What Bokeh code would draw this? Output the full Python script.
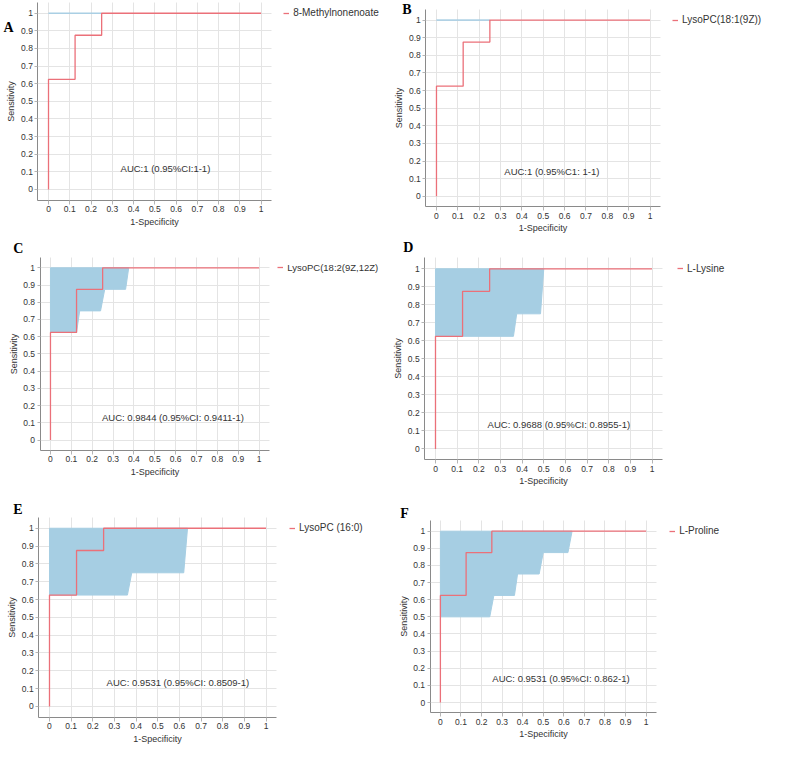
from bokeh.plotting import figure
from bokeh.models import Label, Legend, LegendItem, FixedTicker, Range1d
from bokeh.layouts import column, row
from bokeh.embed import file_html
from bokeh.resources import INLINE

# ---------------- data ----------------
tick_values = [0, 0.1, 0.2, 0.3, 0.4, 0.5, 0.6, 0.7, 0.8, 0.9, 1]
tick_labels = ["0", "0.1", "0.2", "0.3", "0.4", "0.5", "0.6", "0.7", "0.8", "0.9", "1"]

panel_letters = ["A", "B", "C", "D", "E", "F"]
metabolites = ["8-Methylnonenoate", "LysoPC(18:1(9Z))", "LysoPC(18:2(9Z,12Z)",
               "L-Lysine", "LysoPC (16:0)", "L-Proline"]
auc_texts = ["AUC:1 (0.95%CI:1-1)",
             "AUC:1 (0.95%C1: 1-1)",
             "AUC: 0.9844 (0.95%CI: 0.9411-1)",
             "AUC: 0.9688 (0.95%CI: 0.8955-1)",
             "AUC: 0.9531 (0.95%CI: 0.8509-1)",
             "AUC: 0.9531 (0.95%CI: 0.862-1)"]
auc_x = [0.55, 0.54, 0.587, 0.57, 0.593, 0.586]
auc_y = [0.117, 0.14, 0.13, 0.137, 0.134, 0.139]

# ROC curve (1-specificity, sensitivity) - same steps in each panel
roc_fpr = [0, 0, 0.125, 0.125, 0.25, 0.25, 1]
roc_tpr = [0, 0.625, 0.625, 0.875, 0.875, 1, 1]

# 95% CI band: right/lower boundary vertices (1-specificity, sensitivity)
ci_a_x = [0.25, 0]
ci_a_y = [1, 1]
ci_b_x = [0.25, 0]
ci_b_y = [1, 1]
ci_c_x = [0.375, 0.36, 0.26, 0.24, 0.14, 0.125, 0]
ci_c_y = [1, 0.875, 0.875, 0.75, 0.75, 0.625, 0.625]
ci_d_x = [0.5, 0.485, 0.375, 0.36, 0]
ci_d_y = [1, 0.75, 0.75, 0.625, 0.625]
ci_e_x = [0.6375, 0.62, 0.38, 0.36, 0]
ci_e_y = [1, 0.75, 0.75, 0.625, 0.625]
ci_f_x = [0.64, 0.62, 0.5, 0.48, 0.375, 0.36, 0.26, 0.24, 0]
ci_f_y = [1, 0.875, 0.875, 0.75, 0.75, 0.625, 0.625, 0.5, 0.5]
ci_x = [ci_a_x, ci_b_x, ci_c_x, ci_d_x, ci_e_x, ci_f_x]
ci_y = [ci_a_y, ci_b_y, ci_c_y, ci_d_y, ci_e_y, ci_f_y]

# ---------------- layout (pixel geometry of the reference page) ----------------
PAGE_W, PAGE_H, MARGIN = 789, 766, 8
SX = (PAGE_W - 2 * MARGIN) / PAGE_W
SY = (PAGE_H - 2 * MARGIN) / PAGE_H
col_split = 393          # reference x where the right column starts
row_splits = [240, 500]  # reference y where rows 2 and 3 start

# per panel: pixel of x=0, x=1, y=1, y=0 ; legend glyph left ; letter top-left ; legend font
geo = [
    dict(x0=49, x1=266, y1=13, y0=193, lgx=289, ltx=3, lty=20, lfs="10px"),
    dict(x0=445, x1=663, y1=20, y0=200, lgx=686, ltx=410, lty=2, lfs="10px"),
    dict(x0=51, x1=264, y1=273, y0=449, lgx=283, ltx=13, lty=246, lfs="9.5px"),
    dict(x0=444, x1=665, y1=274, y0=458, lgx=691, ltx=411, lty=245, lfs="10px"),
    dict(x0=50, x1=271, y1=539, y0=721, lgx=295, ltx=13, lty=512, lfs="10px"),
    dict(x0=449, x1=659, y1=542, y0=717, lgx=683, ltx=408, lty=516, lfs="10px"),
]

col_w = [round(SX * col_split)]
col_w.append(PAGE_W - 2 * MARGIN - col_w[0])
row_h = [round(SY * row_splits[0]), round(SY * (row_splits[1] - row_splits[0]))]
row_h.append(PAGE_H - 2 * MARGIN - sum(row_h))
col_x = [MARGIN, MARGIN + col_w[0]]
row_y = [MARGIN, MARGIN + row_h[0], MARGIN + row_h[0] + row_h[1]]

SANS = "Liberation Sans"
TXT = "#333333"
RED = "#eb7079"
BLUE = "#a6cee3"
overrides = {v: s for v, s in zip(tick_values, tick_labels)}
X_LO, X_HI = -0.05, 1.05
Y_LO, Y_HI = -0.06, 1.06


def make_panel(i):
    g = geo[i]
    c, r = i % 2, i // 2
    W, H = col_w[c], row_h[r]
    fx, fy = col_x[c], row_y[r]
    ax = MARGIN + SX * g["x0"] - fx
    kx = SX * (g["x1"] - g["x0"])
    by1 = MARGIN + SY * g["y1"] - fy
    by0 = MARGIN + SY * g["y0"] - fy
    ky = by0 - by1
    xr = Range1d(-ax / kx, (W - ax) / kx)
    yr = Range1d(1 - (H - by1) / ky, 1 + by1 / ky)

    p = figure(width=W, height=H, output_backend="svg", toolbar_location=None,
               x_range=xr, y_range=yr, min_border=0,
               min_border_left=0, min_border_right=0, min_border_top=0, min_border_bottom=0)
    p.outline_line_color = None
    p.background_fill_color = "white"
    p.border_fill_color = "white"

    for axis in (p.xaxis[0], p.yaxis[0]):
        axis.ticker = FixedTicker(ticks=tick_values)
        axis.major_label_overrides = overrides
        axis.minor_tick_line_color = None
        axis.axis_line_color = "#8a8a8a"
        axis.major_tick_line_color = "#b5b5b5"
        axis.major_tick_in = 0
        axis.major_label_text_font = SANS
        axis.major_label_text_font_size = "8.5px"
        axis.major_label_text_color = TXT
        axis.axis_label_text_font = SANS
        axis.axis_label_text_font_size = "9px"
        axis.axis_label_text_font_style = "normal"
        axis.axis_label_text_color = TXT
    p.xaxis.fixed_location = Y_LO
    p.yaxis.fixed_location = X_LO
    p.xaxis.bounds = (X_LO, X_HI)
    p.yaxis.bounds = (Y_LO, Y_HI)
    p.xaxis.axis_label = "1-Specificity"
    p.yaxis.axis_label = "Sensitivity"
    p.xaxis.major_tick_out = 4
    p.xaxis.major_label_standoff = 2
    p.xaxis.axis_label_standoff = 1
    p.yaxis.major_tick_out = 3
    p.yaxis.major_label_standoff = 2
    p.yaxis.axis_label_standoff = 2

    p.xgrid[0].ticker = FixedTicker(ticks=tick_values)
    p.ygrid[0].ticker = FixedTicker(ticks=tick_values)
    p.xgrid[0].cross_bounds = (Y_LO, Y_HI)
    p.ygrid[0].cross_bounds = (X_LO, X_HI)
    for grid in (p.xgrid[0], p.ygrid[0]):
        grid.grid_line_color = "#e4e4e4"
        grid.grid_line_width = 1

    # CI band polygon: top edge at sensitivity 1, right boundary, then back along x=0
    bx = [0] + list(ci_x[i]) + [0]
    by = [1] + list(ci_y[i]) + [ci_y[i][-1]]
    p.patch(bx, by, fill_color=BLUE, line_color=BLUE, line_width=1)

    rr = p.line(roc_fpr, roc_tpr, line_color=RED, line_width=1.3)

    p.add_layout(Label(x=auc_x[i], y=auc_y[i], text=auc_texts[i], text_align="center",
                       text_baseline="middle", text_font=SANS, text_font_size="9.5px",
                       text_color=TXT))

    leg_h = 14
    lgx = MARGIN + SX * g["lgx"] - fx
    legend = Legend(items=[LegendItem(label=metabolites[i], renderers=[rr])],
                    location=(lgx, H - by1 - leg_h / 2), border_line_color=None,
                    background_fill_alpha=0, padding=0, margin=0, spacing=0,
                    glyph_width=6, glyph_height=leg_h, label_height=leg_h, label_standoff=4,
                    label_text_font=SANS, label_text_font_size=g["lfs"],
                    label_text_color=TXT)
    p.add_layout(legend)

    ltx = MARGIN + SX * g["ltx"] - fx
    lty = MARGIN + SY * g["lty"] - fy
    p.add_layout(Label(x=max(ltx, 1), y=H - max(lty, 1), x_units="screen", y_units="screen",
                       text=panel_letters[i], text_baseline="top", text_align="left",
                       text_font="Liberation Serif", text_font_style="bold",
                       text_font_size="14px", text_color="#000000"))
    return p


panels = [make_panel(i) for i in range(6)]
layout = column(row(panels[0], panels[1]), row(panels[2], panels[3]), row(panels[4], panels[5]))

open("out.html", "w").write(file_html(layout, INLINE))
